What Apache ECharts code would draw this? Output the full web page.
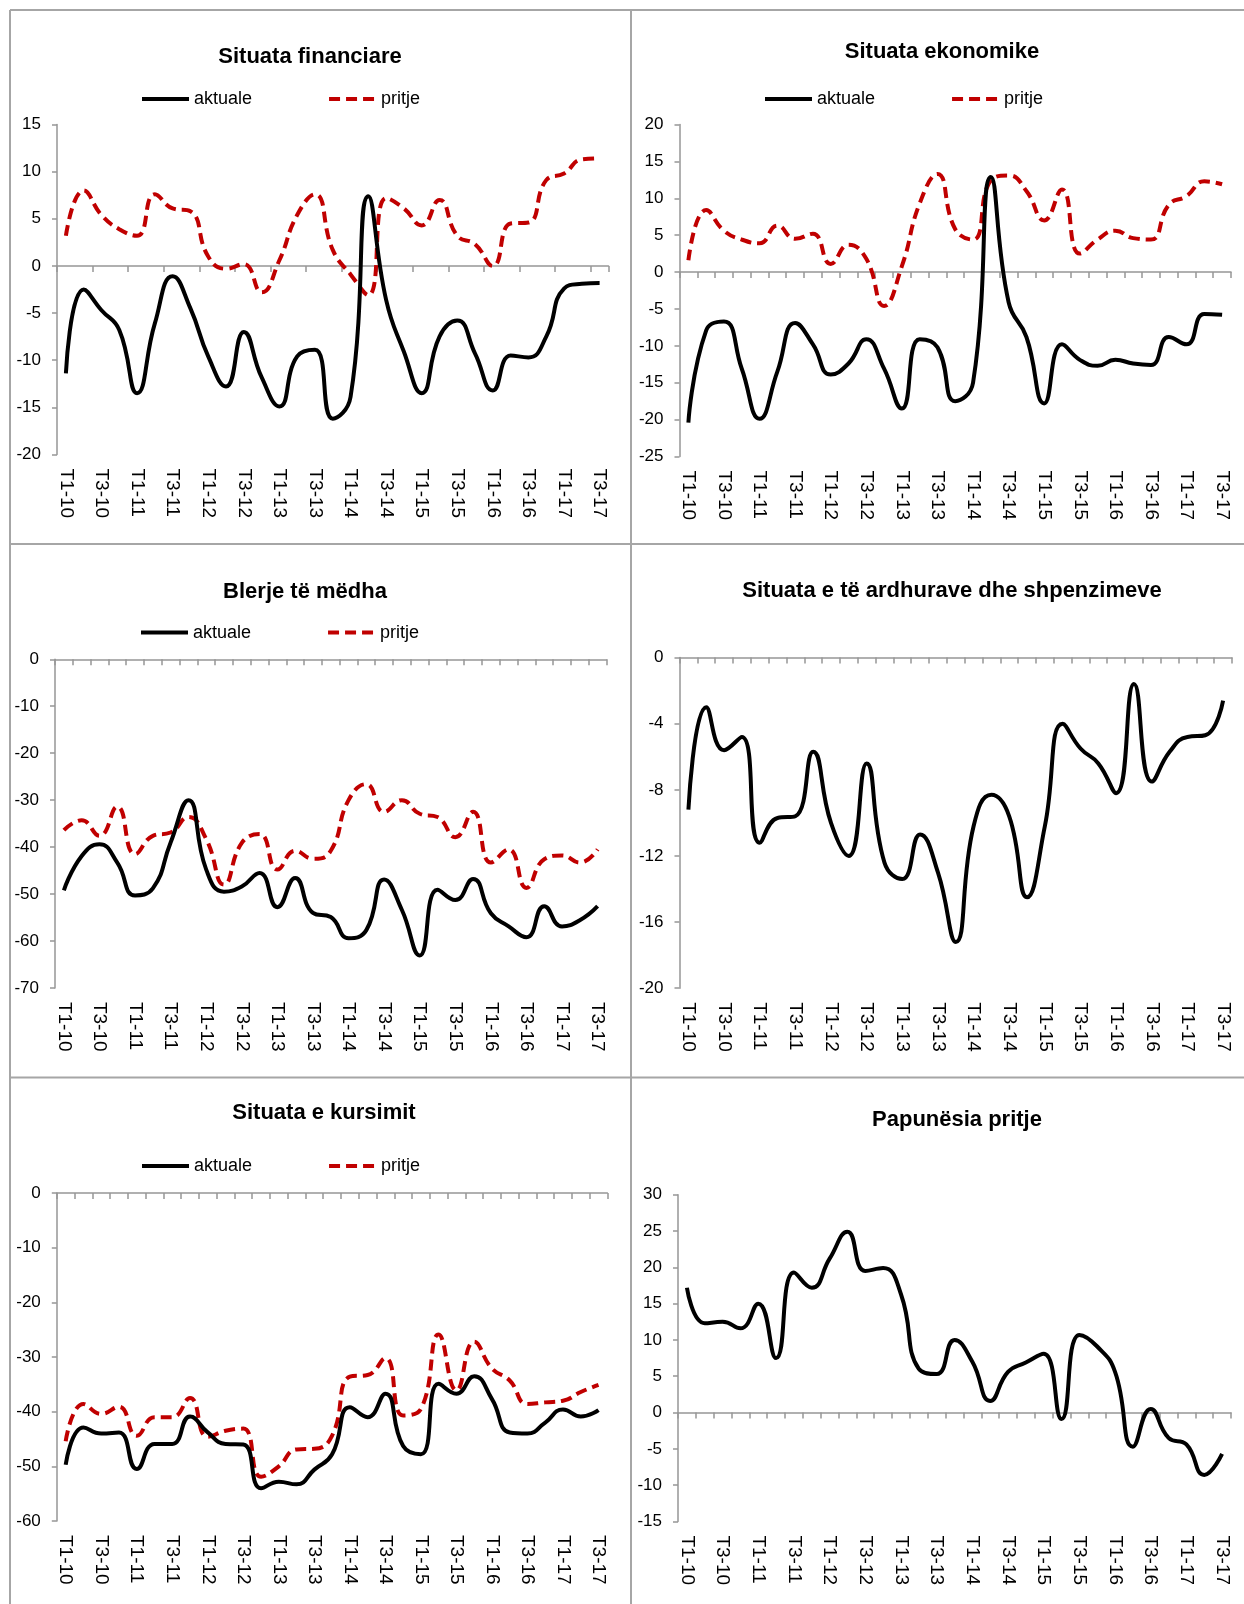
<!DOCTYPE html>
<html>
<head>
<meta charset="utf-8">
<style>
html,body{margin:0;padding:0;background:#fff;}
#c{width:1244px;height:1604px;}
</style>
<script src="https://cdn.jsdelivr.net/npm/echarts@6/dist/echarts.min.js"></script>
</head>
<body>
<div id="c"></div>
<script>
// ---- DATA ----
const categories = ['T1-10','T2-10','T3-10','T4-10','T1-11','T2-11','T3-11','T4-11','T1-12','T2-12','T3-12','T4-12','T1-13','T2-13','T3-13','T4-13','T1-14','T2-14','T3-14','T4-14','T1-15','T2-15','T3-15','T4-15','T1-16','T2-16','T3-16','T4-16','T1-17','T2-17','T3-17'];

const titles = ['Situata financiare','Situata ekonomike','Blerje të mëdha','Situata e të ardhurave dhe shpenzimeve','Situata e kursimit','Papunësia pritje'];
const seriesNames = ['aktuale','pritje'];

const financAktuale = [-11.4,-2.5,-4.7,-6.8,-13.5,-6.1,-1.1,-4.5,-9.6,-12.8,-7.0,-11.8,-14.9,-9.6,-8.9,-16.2,-13.9,7.4,-3.6,-9.1,-13.5,-7.5,-5.8,-9.3,-13.2,-9.5,-9.7,-7.5,-2.4,-1.9,-1.8];
const financPritje  = [3.2,8.0,5.4,3.9,3.2,7.6,6.1,5.8,1.0,-0.3,0.2,-2.8,0.6,5.4,7.6,1.7,-0.9,-3.1,7.2,6.1,4.3,7.0,3.2,2.3,0.0,4.5,4.6,9.1,9.8,11.3,11.4];

const ekonAktuale = [-20.4,-7.9,-6.7,-13.1,-19.9,-13.5,-6.9,-9.8,-13.9,-12.4,-9.1,-13.1,-18.5,-9.1,-10.2,-17.5,-15.0,12.9,-4.1,-8.8,-17.8,-9.8,-11.9,-12.7,-11.9,-12.4,-12.6,-8.8,-9.8,-5.7,-5.8];
const ekonPritje  = [1.6,8.4,5.6,4.4,3.9,6.3,4.5,5.2,1.1,3.7,1.8,-4.6,0.8,9.3,13.3,5.8,4.4,12.4,13.1,11.0,7.0,11.2,2.5,4.4,5.6,4.6,4.4,9.1,10.3,12.3,11.9];

const blerjeAktuale = [-49.2,-41.9,-39.4,-43.3,-50.3,-48.8,-39.0,-30.0,-44.8,-49.5,-48.4,-45.5,-52.8,-46.6,-54.0,-54.9,-59.4,-57.7,-46.9,-53.4,-63.1,-49.1,-51.3,-46.8,-54.1,-56.9,-59.2,-52.6,-56.9,-55.6,-52.6];
const blerjePritje  = [-36.4,-34.3,-37.6,-31.4,-41.5,-37.6,-36.9,-33.6,-38.3,-48.0,-39.1,-37.2,-44.8,-40.8,-42.5,-40.8,-30.0,-26.6,-32.5,-30.0,-32.9,-33.6,-37.9,-32.5,-43.3,-40.5,-48.7,-42.6,-41.8,-43.3,-40.5];

const ardhurat = [-9.2,-3.0,-5.6,-4.8,-11.2,-9.7,-9.6,-5.7,-10.0,-12.0,-6.4,-12.4,-13.4,-10.7,-13.0,-17.2,-10.2,-8.3,-9.6,-14.5,-10.2,-4.0,-5.5,-6.4,-8.2,-1.6,-7.5,-5.7,-4.8,-4.7,-2.6];

const kursAktuale = [-49.7,-42.9,-44.0,-43.8,-50.5,-45.9,-45.9,-40.9,-43.8,-45.9,-46.0,-54.0,-52.8,-53.3,-50.6,-47.8,-39.2,-41.0,-36.7,-46.3,-47.8,-34.9,-36.7,-33.5,-37.7,-43.8,-44.0,-42.0,-39.6,-40.9,-39.7];
const kursPritje  = [-45.4,-38.6,-40.4,-39.1,-44.4,-41.0,-41.0,-37.5,-44.6,-43.5,-43.1,-51.9,-50.0,-46.9,-46.8,-44.4,-33.6,-33.3,-30.2,-40.7,-39.5,-25.9,-36.1,-27.2,-32.1,-34.3,-38.6,-38.3,-38.0,-36.4,-35.1];

const papunesia = [17.2,12.3,12.5,11.6,15.0,7.5,19.3,17.2,21.2,24.9,19.5,19.9,16.3,6.0,5.3,10.0,7.0,1.6,5.6,6.9,8.1,-0.9,10.7,9.1,5.6,-4.7,0.5,-3.5,-4.4,-8.6,-5.7];

// y-axis scales [min, max, interval]
const yScales = [[-20,15,5],[-25,20,5],[-70,0,10],[-20,0,4],[-60,0,10],[-15,30,5]];

// ---- LAYOUT / STYLE ----
const FONT = '"Liberation Sans", Arial, sans-serif';
const AX = '#969696';
const panels = [
  {grid:{left:57,top:124.5,width:551.5,height:330}, title:[305,54], legend:[140,100], tickInt:1},
  {grid:{left:679.5,top:124.5,width:551.5,height:332}, title:[937,49], legend:[763,100], tickInt:0},
  {grid:{left:55,top:659.3,width:551.5,height:328.6}, title:[300,589], legend:[139,633.6], tickInt:0},
  {grid:{left:679.5,top:657.6,width:552.5,height:330.6}, title:[947,587.5], legend:null, tickInt:0},
  {grid:{left:56.8,top:1193,width:550.6,height:328}, title:[319,1109.5], legend:[140,1167], tickInt:0},
  {grid:{left:678,top:1194.8,width:553,height:326.6}, title:[952,1117], legend:null, tickInt:0}
];
const panelSeries = [
  [financAktuale, financPritje],
  [ekonAktuale, ekonPritje],
  [blerjeAktuale, blerjePritje],
  [ardhurat],
  [kursAktuale, kursPritje],
  [papunesia]
];

const option = {
  animation:false,
  backgroundColor:'#ffffff',
  title:[], legend:[], grid:[], xAxis:[], yAxis:[], series:[],
  graphic:[]
};

panels.forEach((p,k)=>{
  option.grid.push(Object.assign({containLabel:false}, p.grid));
  option.title.push({
    text:titles[k], left:p.title[0], top:p.title[1]-13, textAlign:'center',
    textStyle:{fontFamily:FONT,fontWeight:'bold',fontSize:22,color:'#000'}
  });
  if (p.legend){
    option.legend.push({
      data:seriesNames, left:p.legend[0], top:p.legend[1]-10, padding:0,
      itemWidth:47, itemHeight:14, itemGap:75,
      itemStyle:{opacity:0},
      lineStyle:{width:4},
      textStyle:{fontFamily:FONT,fontSize:18,color:'#000'}
    });
  }
  // label axis (bottom)
  option.xAxis.push({
    type:'category', gridIndex:k, data:categories, position:'bottom', boundaryGap:true,
    axisLine:{show:false,onZero:false}, axisTick:{show:false}, splitLine:{show:false},
    axisLabel:{rotate:-90, interval:1, margin:14, fontSize:19, color:'#000', fontFamily:FONT}
  });
  // zero line axis with ticks
  option.xAxis.push({
    type:'category', gridIndex:k, data:categories, position:'bottom', boundaryGap:true,
    axisLine:{show:true,onZero:true,lineStyle:{color:AX,width:1.5}},
    axisTick:{show:true,interval:p.tickInt,length:6,lineStyle:{color:AX,width:1.5}},
    axisLabel:{show:false}, splitLine:{show:false}
  });
  const ys = yScales[k];
  option.yAxis.push({
    type:'value', gridIndex:k, min:ys[0], max:ys[1], interval:ys[2],
    axisLine:{show:true,lineStyle:{color:AX,width:1.5}},
    axisTick:{show:true,length:5,lineStyle:{color:AX,width:1.5}},
    splitLine:{show:false},
    axisLabel:{fontSize:17,color:'#000',fontFamily:FONT,margin:16}
  });
  panelSeries[k].forEach((arr,j)=>{
    const isPritje = panelSeries[k].length===2 && j===1;
    option.series.push({
      type:'line', name: panelSeries[k].length===2 ? seriesNames[j] : titles[k],
      xAxisIndex:2*k, yAxisIndex:k, data:arr, smooth:0.5,
      symbol:'none', showSymbol:false,
      lineStyle: isPritje
        ? {color:'#C00000', width:4, type:[11,6], cap:'butt'}
        : {color:'#000000', width:4},
      itemStyle:{color: isPritje ? '#C00000' : '#000000'},
      z: isPritje ? 2 : 3
    });
  });
});

// panel borders
const BC = '#a6a6a6';
function ln(x1,y1,x2,y2){
  return {type:'line', silent:true, shape:{x1,y1,x2,y2}, style:{stroke:BC,lineWidth:2}};
}
option.graphic = [
  ln(10,10,1244,10),
  ln(10,10,10,1604),
  ln(631,10,631,1604),
  ln(10,544,1244,544),
  ln(10,1077.5,1244,1077.5)
];

const chart = echarts.init(document.getElementById('c'), null, {renderer:'canvas', width:1244, height:1604});
chart.setOption(option);
</script>
</body>
</html>
